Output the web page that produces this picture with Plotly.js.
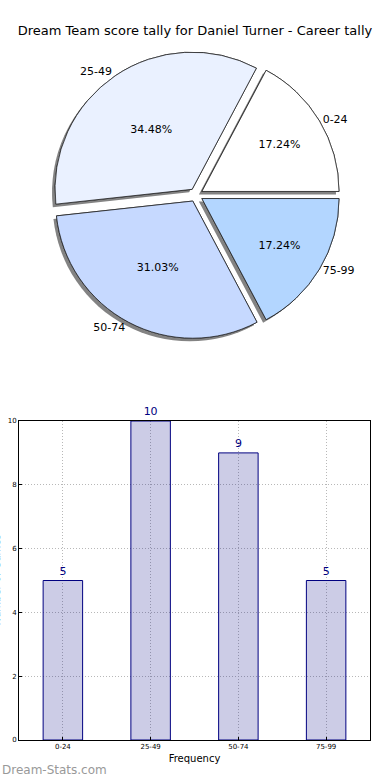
<!DOCTYPE html>
<html>
<head>
<meta charset="utf-8">
<script src="https://cdn.plot.ly/plotly-3.0.1.min.js"></script>
<style>html,body{margin:0;padding:0;background:#fff;}#chart{width:390px;height:780px;}</style>
</head>
<body>
<div id="chart"></div>
<script>
const categories = ["0-24", "25-49", "50-74", "75-99"];
const counts = [5, 10, 9, 5];
const sliceColors = ["#ffffff", "#eaf1ff", "#c6d9ff", "#b3d6ff"];
const yTicks = [0, 2, 4, 6, 8, 10];

const W = 390, H = 780;
const cx = 196, cy = 195, half = 144;
function dom(dx, dy) {
  return {
    x: [(cx - half + dx) / W, (cx + half + dx) / W],
    y: [(H - cy - half - dy) / H, (H - cy + half - dy) / H]
  };
}
const pull = [0.05, 0.05, 0.05, 0.05];
const total = counts.reduce((a, b) => a + b, 0);
const rot = 90 - 360 * counts[0] / total;

const common = {type: "pie", values: counts, labels: categories, sort: false,
  direction: "counterclockwise", rotation: rot, pull: pull, showlegend: false};

const shadow = Object.assign({}, common, {
  domain: dom(-3, 3), textinfo: "none", hoverinfo: "skip",
  marker: {colors: categories.map(() => "rgba(90,90,90,0.75)"), line: {width: 0}}
});
const pieLabels = Object.assign({}, common, {
  domain: dom(0, 0), textinfo: "label", textposition: "outside",
  outsidetextfont: {family: "DejaVu Sans", size: 11, color: "#000"},
  hoverinfo: "skip",
  marker: {colors: sliceColors, line: {color: "#222", width: 0.8}}
});
const piePct = Object.assign({}, common, {
  domain: dom(0, 0), texttemplate: "%{percent:.2%}", textposition: "inside",
  insidetextorientation: "horizontal",
  insidetextfont: {family: "DejaVu Sans", size: 11, color: "#000"},
  marker: {colors: sliceColors, line: {color: "#222", width: 0.8}}
});
const bars = {
  type: "bar", x: categories, y: counts, width: 0.45,
  text: counts.map(String), textposition: "outside", cliponaxis: false,
  textfont: {family: "DejaVu Sans", size: 11, color: "#000080"},
  marker: {color: "rgba(0,0,128,0.2)", line: {color: "#000080", width: 1}},
  xaxis: "x", yaxis: "y", showlegend: false
};

const gridStyle = {showgrid: true, gridcolor: "#b8b8b8", griddash: "1px,2px", gridwidth: 1};

const layout = {
  width: W, height: H,
  margin: {l: 0, r: 0, t: 0, b: 0},
  paper_bgcolor: "#fff", plot_bgcolor: "#fff",
  showlegend: false,
  title: {text: "Dream Team score tally for Daniel Turner - Career tally",
          font: {family: "DejaVu Sans", size: 13, color: "#000"},
          x: 0.5, xanchor: "center", y: 1 - 30 / H, yanchor: "middle"},
  xaxis: Object.assign({
    domain: [19 / W, 370 / W], range: [-0.5, 3.5], anchor: "y",
    showline: true, linecolor: "#000", linewidth: 1, mirror: true,
    ticks: "inside", ticklen: 3, tickcolor: "#000",
    tickfont: {family: "DejaVu Sans", size: 7, color: "#000"},
    layer: "above traces",
    title: {text: "Frequency", font: {family: "DejaVu Sans", size: 10, color: "#000"}, standoff: 4},
    fixedrange: true
  }, gridStyle),
  yaxis: Object.assign({
    domain: [(H - 740) / H, (H - 421) / H], range: [0, 10], anchor: "x",
    tickvals: yTicks, ticktext: yTicks.map(String),
    showline: true, linecolor: "#000", linewidth: 1, mirror: true,
    zeroline: false,
    ticks: "inside", ticklen: 3, tickcolor: "#000",
    tickfont: {family: "DejaVu Sans", size: 7, color: "#000"},
    layer: "above traces", fixedrange: true
  }, gridStyle),
  annotations: [
    {text: "Number of Games", textangle: -90, xref: "paper", yref: "paper",
     x: 3 / W, xanchor: "right", y: (H - 580) / H, yanchor: "middle", showarrow: false,
     font: {family: "DejaVu Sans", size: 10, color: "#000"}},
    {text: "Dream-Stats.com", xref: "paper", yref: "paper",
     x: 0, xanchor: "left", y: (H - 770) / H, yanchor: "middle", showarrow: false,
     font: {family: "DejaVu Sans", size: 12, color: "#999"}}
  ]
};

Plotly.newPlot("chart", [shadow, pieLabels, piePct, bars], layout, {displayModeBar: false, staticPlot: true});
</script>
</body>
</html>
